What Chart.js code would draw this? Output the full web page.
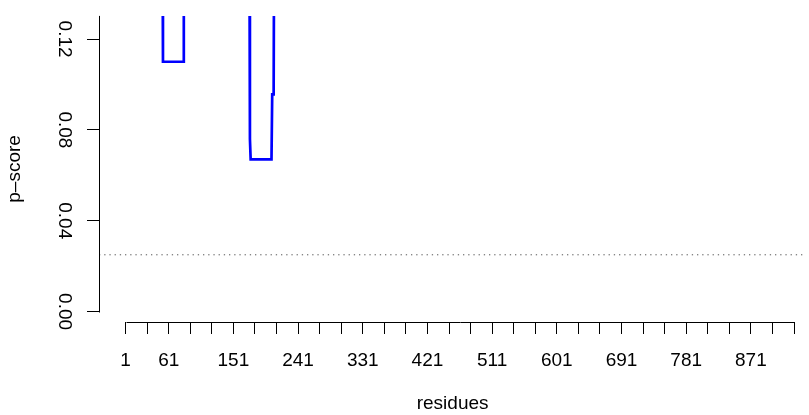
<!DOCTYPE html>
<html>
<head>
<meta charset="utf-8">
<script src="https://cdn.jsdelivr.net/npm/chart.js@4/dist/chart.umd.min.js"></script>
<style>
  html, body { margin: 0; padding: 0; background: #fff; }
  #wrap { width: 809px; height: 415px; position: relative; }
</style>
</head>
<body>
<div id="wrap"><canvas id="scoreChart"></canvas></div>
<script>
// p-score profile along the sequence (values above 0.13 run off the top of the plot)
const residues = [1, 52, 53, 81, 82, 173, 174, 175, 204, 205, 207, 208, 931];
const pScores = [0.2, 0.2, 0.110, 0.110, 0.2, 0.2, 0.076, 0.067, 0.067, 0.0956, 0.0956, 0.2, 0.2];
const cutoff = 0.025;

const xTicks = [1, 31, 61, 91, 121, 151, 181, 211, 241, 271, 301, 331, 361, 391, 421, 451,
    481, 511, 541, 571, 601, 631, 661, 691, 721, 751, 781, 811, 841, 871, 901, 931];
const xTickLabels = ['1', '', '61', '', '', '151', '', '', '241', '', '', '331', '', '', '421', '',
    '', '511', '', '', '601', '', '', '691', '', '', '781', '', '', '871', '', ''];
const yTicks = [0, 0.04, 0.08, 0.12];
const yTickLabels = ['0.00', '0.04', '0.08', '0.12'];

const xMin = -36, xMax = 948;
const yMin = -0.0046, yMax = 0.1302;

Chart.defaults.font.family = "'Liberation Sans', Arial, sans-serif";
Chart.defaults.font.size = 19;
Chart.defaults.color = '#000';

// R style axis lines: only between the outer ticks
const axisLines = {
    id: 'axisLines',
    afterDraw(chart) {
        const {ctx, chartArea, scales} = chart;
        const x = scales.x, y = scales.y;
        ctx.save();
        ctx.strokeStyle = '#000';
        ctx.lineWidth = 1;
        ctx.beginPath();
        const yb = Math.round(chartArea.bottom) + 0.5;
        ctx.moveTo(Math.round(x.getPixelForValue(xTicks[0])) + 0.5, yb);
        ctx.lineTo(Math.round(x.getPixelForValue(xTicks[xTicks.length - 1])) + 0.5, yb);
        const xl = Math.round(chartArea.left) + 0.5;
        ctx.moveTo(xl, Math.round(y.getPixelForValue(yTicks[0])) + 0.5);
        ctx.lineTo(xl, chartArea.top);
        ctx.stroke();
        ctx.restore();
    }
};

const ctx = document.getElementById('scoreChart').getContext('2d');
new Chart(ctx, {
    type: 'line',
    data: {
        datasets: [{
            data: residues.map((r, i) => ({x: r, y: pScores[i]})),
            borderColor: '#0000ff',
            borderWidth: 2.7,
            pointRadius: 0,
            tension: 0,
            clip: 0
        }, {
            data: [{x: xMin, y: cutoff}, {x: xMax, y: cutoff}],
            borderColor: '#555',
            borderWidth: 1,
            borderDash: [1.3, 3.9],
            pointRadius: 0,
            clip: 0
        }]
    },
    options: {
        responsive: true,
        maintainAspectRatio: false,
        animation: false,
        layout: { padding: { top: 14, left: 0, right: 0, bottom: 0 } },
        plugins: { legend: { display: false }, tooltip: { enabled: false } },
        scales: {
            x: {
                type: 'linear',
                min: xMin,
                max: xMax,
                afterFit: s => { s.height = 93; },
                afterBuildTicks: s => { s.ticks = xTicks.map(v => ({value: v})); },
                border: { display: false },
                grid: { drawOnChartArea: false, drawTicks: true, tickLength: 12, color: '#000', lineWidth: 1 },
                ticks: {
                    autoSkip: false, maxRotation: 0, minRotation: 0, padding: 15,
                    callback: (v, i) => xTickLabels[i]
                },
                title: { display: true, text: 'residues', padding: { top: 0, bottom: 0 } }
            },
            y: {
                min: yMin,
                max: yMax,
                afterFit: s => { s.width = 99; },
                afterBuildTicks: s => { s.ticks = yTicks.map(v => ({value: v})); },
                border: { display: false },
                grid: { drawOnChartArea: false, drawTicks: true, tickLength: 12, color: '#000', lineWidth: 1 },
                ticks: {
                    minRotation: -90, maxRotation: -90, crossAlign: 'center', padding: 4.5,
                    callback: (v, i) => yTickLabels[i]
                },
                title: { display: true, text: 'p–score', padding: { top: 3, bottom: 0 } }
            }
        }
    },
    plugins: [axisLines]
});
</script>
</body>
</html>
